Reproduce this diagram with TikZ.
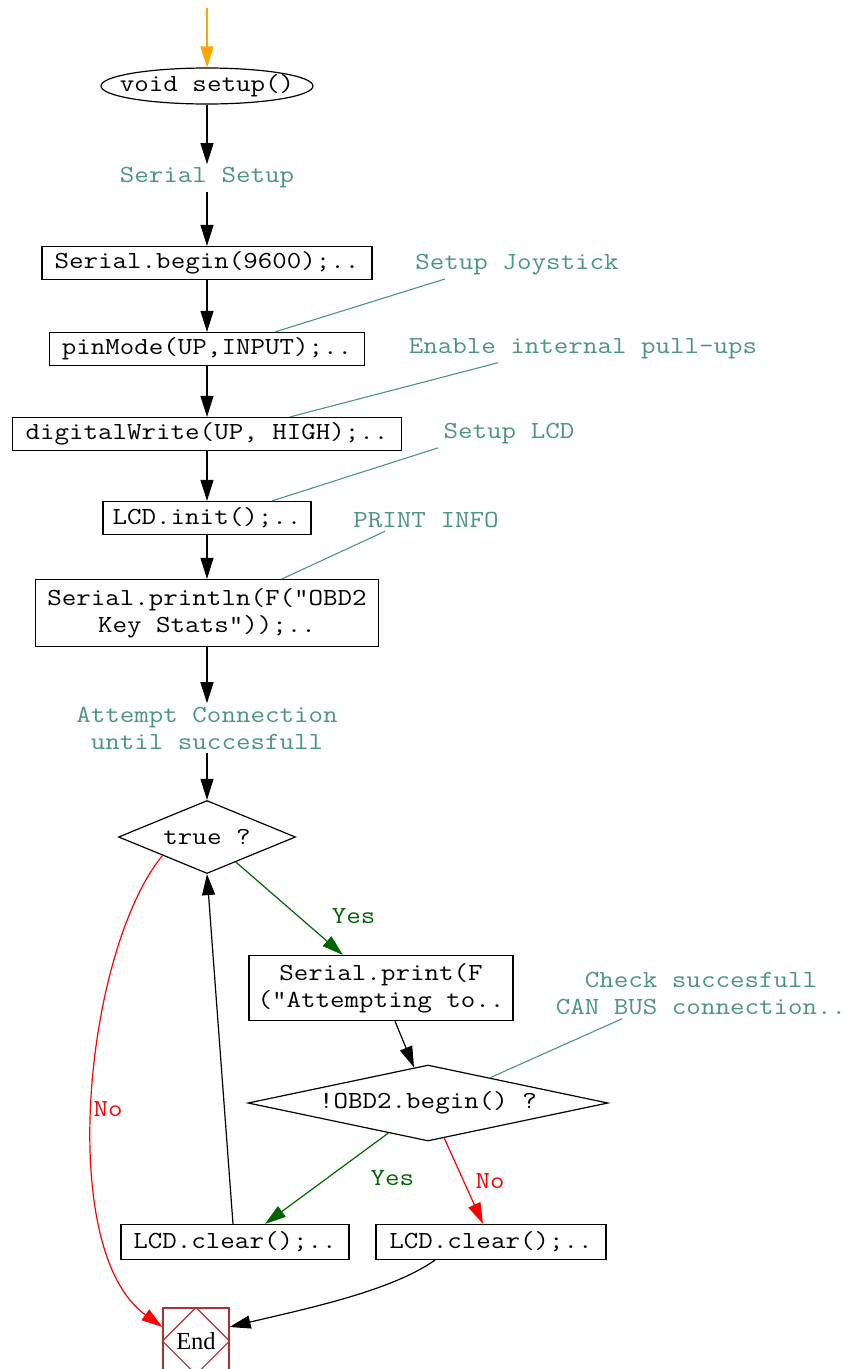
\documentclass[tikz,border=0pt]{standalone}
\usepackage{fontspec}
\setmainfont{Liberation Serif}
\setmonofont[FakeStretch=1.15]{Latin Modern Mono}
\usepackage{xcolor}
\usepackage{tikz}
\usetikzlibrary{arrows.meta,shapes.geometric,calc}

\definecolor{notegreen}{RGB}{74,150,122}
\definecolor{yesgreen}{RGB}{0,100,0}
\definecolor{endred}{RGB}{176,48,48}
\definecolor{startorange}{RGB}{255,165,0}

\begin{document}
\begin{tikzpicture}[
    x=1pt, y=-1pt,
    font=\ttfamily\fontsize{24.5}{27}\selectfont,
    flow/.style={-{Triangle[length=21pt, width=13pt]}, line width=1.2pt},
    box/.style={rectangle, draw, line width=1.2pt, minimum height=33pt, inner sep=2pt, align=center},
    startnode/.style={ellipse, draw, line width=1.2pt, inner xsep=-13pt, inner ysep=0pt, minimum width=212pt, minimum height=36pt},
    cond/.style={diamond, draw, line width=1.2pt, inner sep=0pt},
    note/.style={text=notegreen, align=center},
    noteline/.style={draw=notegreen, line width=1.1pt},
    yes/.style={text=yesgreen},
    no/.style={text=red},
    endnode/.style={rectangle, draw=endred, line width=1.2pt, minimum size=66pt, inner sep=0pt, font=\rmfamily\fontsize{24.5}{27}\selectfont}
]
\clip (0,0) rectangle (851,1369);

% Nodes
\coordinate (start) at (207,8);
\node[startnode] (setup) at (207,86) {void setup()};
\node[note] (serialsetup) at (207,178) {Serial Setup};
\node[box, minimum width=330pt] (begin) at (207,263) {Serial.begin(9600);..};
\node[box, minimum width=315pt] (pinmode) at (207,349) {pinMode(UP,INPUT);..};
\node[box, minimum width=389pt] (digital) at (207,434) {digitalWrite(UP, HIGH);..};
\node[box, minimum width=208pt] (init) at (207,518) {LCD.init();..};
\node[box, minimum width=343pt, minimum height=67pt] (println) at (207,613) {Serial.println(F("OBD2\\Key Stats"));..};
\node[note] (attempt) at (207,728) {Attempt Connection\\until succesfull};
\node[cond, aspect=2.42, minimum width=177pt, minimum height=73pt] (truec) at (207,837) {true ?};
\node[box, minimum width=264pt, minimum height=65pt] (print) at (381,988) {Serial.print(F\\("Attempting to..};
\node[cond, aspect=4.74, minimum width=360pt, minimum height=76pt] (obd) at (428,1103) {!OBD2.begin() ?};
\node[box, minimum width=228pt, minimum height=35pt] (clearA) at (235,1242) {LCD.clear();..};
\node[box, minimum width=230pt, minimum height=35pt] (clearB) at (491,1242) {LCD.clear();..};
\node[endnode] (endn) at (196,1341) {End};
\draw[endred, line width=1.2pt] (endn.north) -- (endn.east) -- (endn.south) -- (endn.west) -- cycle;

% Notes
\node[note] (joy) at (517,265) {Setup Joystick};
\node[note] (pull) at (583,349) {Enable internal pull-ups};
\node[note] (lcd) at (509,434) {Setup LCD};
\node[note] (info) at (426,520) {PRINT INFO};
\node[note] (check) at (701,994) {Check succesfull\\CAN BUS connection..};

\draw[noteline] ([xshift=68pt]pinmode.north) -- ([xshift=-72pt]joy.south);
\draw[noteline] ([xshift=83pt]digital.north) -- ([xshift=-85pt]pull.south);
\draw[noteline] ([xshift=65pt]init.north) -- ([xshift=-71pt]lcd.south);
\draw[noteline] ([xshift=75pt]println.north) -- ([xshift=-41pt]info.south);
\draw[noteline] ($(obd.north)!0.344!(obd.east)$) -- ([xshift=-79pt]check.south);

% Arrows
\draw[flow, startorange] (start) -- (setup.north);
\draw[flow] (setup) -- (serialsetup);
\draw[flow] (serialsetup) -- (begin);
\draw[flow] (begin) -- (pinmode);
\draw[flow] (pinmode) -- (digital);
\draw[flow] (digital) -- (init);
\draw[flow] (init) -- (println);
\draw[flow] (println) -- (attempt);
\draw[flow] (attempt) -- (truec);
\draw[flow, yesgreen] (truec) -- (print) node[pos=0.58, right=30pt, yes] {Yes};
\draw[flow] ([xshift=14pt]print.south) -- ([xshift=-14pt, yshift=-3pt]obd.north);
\draw[flow, yesgreen] ($(obd.south)!0.22!(obd.west)$) -- ([xshift=30pt]clearA.north) node[midway, right=40pt, yes] {Yes};
\draw[flow, red] ($(obd.south)!0.09!(obd.east)$) -- ([xshift=-8pt]clearB.north) node[midway, right=8pt, no] {No};
\draw[flow] ([xshift=-2pt]clearA.north) -- (truec.south);
\draw[flow, red] (truec.south west) .. controls (85,950) and (55,1250) .. ([yshift=14pt]endn.west) node[pos=0.52, right=-3pt, no] {No};
\draw[flow] ([xshift=-56pt]clearB.south) .. controls (390,1292) and (300,1310) .. ([yshift=14pt]endn.east);
\end{tikzpicture}
\end{document}
